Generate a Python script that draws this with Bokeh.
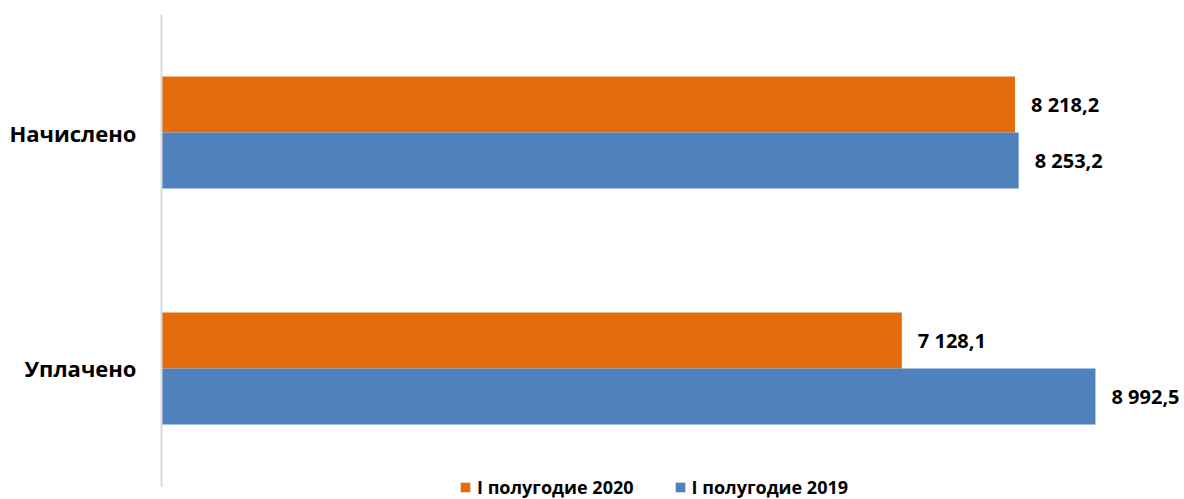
from bokeh.plotting import figure
from bokeh.models import ColumnDataSource, FactorRange, Range1d, Legend, LegendItem
from bokeh.transform import dodge
from bokeh.embed import file_html
from bokeh.resources import INLINE
from bokeh.core.properties import value

categories = ["Уплачено", "Начислено"]
series_2020 = [7128.1, 8218.2]
series_2019 = [8992.5, 8253.2]
series_names = ["I полугодие 2020", "I полугодие 2019"]
colors = ["#E46C0A", "#4F81BD"]


def fmt(v):
    s = f"{v:,.1f}"
    return s.replace(",", " ").replace(".", ",")


src = ColumnDataSource(dict(
    cat=categories,
    v2020=series_2020,
    v2019=series_2019,
    l2020=[fmt(v) for v in series_2020],
    l2019=[fmt(v) for v in series_2019],
))

p = figure(width=1184, height=499, output_backend="svg", toolbar_location=None,
           y_range=FactorRange(factors=categories, range_padding=0.0551),
           x_range=Range1d(0, 9850),
           min_border_left=161, min_border_right=0, min_border_top=1, min_border_bottom=0)

off = 0.1186
h = 0.237
r1 = p.hbar(y=dodge("cat", off, range=p.y_range), left=0, right="v2020", height=h,
            source=src, color=colors[0], line_color=None)
r2 = p.hbar(y=dodge("cat", -off, range=p.y_range), left=0, right="v2019", height=h,
            source=src, color=colors[1], line_color=None)

for col, lab, o in [("v2020", "l2020", off), ("v2019", "l2019", -off)]:
    p.text(x=col, y=dodge("cat", o, range=p.y_range), text=lab, source=src,
           x_offset=16, text_baseline="middle", text_align="left",
           text_font=value("Open Sans"), text_font_style="bold",
           text_font_size="20px", text_color="#000000")

p.xaxis.visible = False
p.xgrid.visible = False
p.ygrid.visible = False
p.outline_line_color = None

ax = p.yaxis[0]
ax.bounds = (0, 2)
ax.axis_line_color = "#D9D9D9"
ax.axis_line_width = 2
ax.major_tick_line_color = None
ax.minor_tick_line_color = None
ax.major_tick_out = 0
ax.major_tick_in = 0
ax.major_label_standoff = 25
ax.major_label_text_font = "Open Sans"
ax.major_label_text_font_style = "bold"
ax.major_label_text_font_size = "22px"
ax.major_label_text_color = "#000000"

legend = Legend(items=[LegendItem(label=series_names[0], renderers=[r1]),
                       LegendItem(label=series_names[1], renderers=[r2])],
                orientation="horizontal", location=(298, 0),
                padding=0, margin=0, spacing=40, label_standoff=6,
                glyph_width=12, glyph_height=12,
                label_text_font="Open Sans", label_text_font_style="bold",
                label_text_font_size="18px", label_text_color="#000000",
                border_line_color=None, background_fill_alpha=0)
p.add_layout(legend, "center")

open("out.html", "w").write(file_html(p, INLINE))
